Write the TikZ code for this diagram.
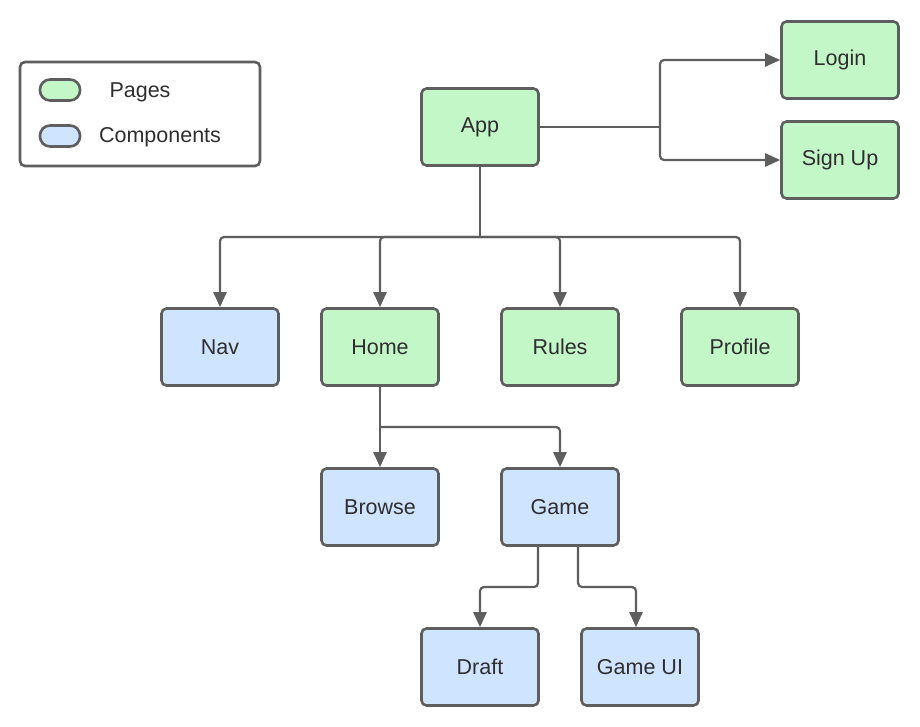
\documentclass[tikz,border=0pt]{standalone}
\usepackage{fontspec}
\setmainfont{Liberation Sans}
\usetikzlibrary{arrows.meta}
\definecolor{pagefill}{HTML}{C3F7C8}
\definecolor{compfill}{HTML}{CFE4FF}
\definecolor{edge}{HTML}{5E5E5E}
\definecolor{ink}{HTML}{2E2E2E}
\begin{document}
\begin{tikzpicture}[x=1pt,y=-1pt,
  box/.style={draw=edge, line width=2.6pt, rounded corners=5pt,
    minimum width=117pt, minimum height=77pt, inner sep=0pt,
    font=\fontsize{21.5}{26}\selectfont, text=ink},
  page/.style={box, fill=pagefill},
  comp/.style={box, fill=compfill},
  pill/.style={draw=edge, line width=2.6pt, rounded corners=10pt,
    minimum width=40pt, minimum height=21pt, inner sep=0pt},
  link/.style={draw=edge, line width=2.2pt, rounded corners=4pt,
    -{Triangle[length=15pt,width=13pt]}},
  wire/.style={draw=edge, line width=2.2pt, rounded corners=4pt},
  lbl/.style={font=\fontsize{21.5}{26}\selectfont, text=ink, inner sep=0pt}]
\useasboundingbox (0,0) rectangle (920,726);

% legend
\node[draw=edge, line width=2.6pt, rounded corners=5pt, minimum width=240pt,
  minimum height=104pt, inner sep=0pt] (legend) at (140,114) {};
\node[pill, fill=pagefill] (pagekey) at (60,90) {};
\node[pill, fill=compfill] (compkey) at (60,136) {};
\node[lbl] (pagetxt) at (140,92) {Pages};
\node[lbl] (comptxt) at (160,137) {Components};

% pages and components
\node[page] (app) at (480,127) {App};
\node[page] (login) at (840,60) {Login};
\node[page] (signup) at (840,160) {Sign Up};
\node[comp] (nav) at (220,347) {Nav};
\node[page] (home) at (380,347) {Home};
\node[page] (rules) at (560,347) {Rules};
\node[page] (profile) at (740,347) {Profile};
\node[comp] (browse) at (380,507) {Browse};
\node[comp] (game) at (560,507) {Game};
\node[comp] (draft) at (480,667) {Draft};
\node[comp] (gameui) at (640,667) {Game UI};

% App -> Login / Sign Up
\coordinate (authjoin) at (660,127);
\draw[wire] (app.east) -- (authjoin);
\draw[link] (authjoin) -- (660,60) -- (login.west);
\draw[link] (authjoin) -- (660,160) -- (signup.west);

% App -> second row
\coordinate (rowjoin) at (480,237);
\draw[wire] (app.south) -- (rowjoin);
\draw[link] (rowjoin) -| (nav.north);
\draw[link] (rowjoin) -| (home.north);
\draw[link] (rowjoin) -| (rules.north);
\draw[link] (rowjoin) -| (profile.north);

% Home -> Browse / Game
\coordinate (homejoin) at (380,427);
\draw[link] (home.south) -- (browse.north);
\draw[link] (homejoin) -| (game.north);

% Game -> Draft / Game UI
\coordinate (gl) at (538,547);
\coordinate (gr) at (578,547);
\draw[link] (gl) -- (538,587) -| (draft.north);
\draw[link] (gr) -- (578,587) -| ([xshift=-4pt]gameui.north);
\end{tikzpicture}
\end{document}
